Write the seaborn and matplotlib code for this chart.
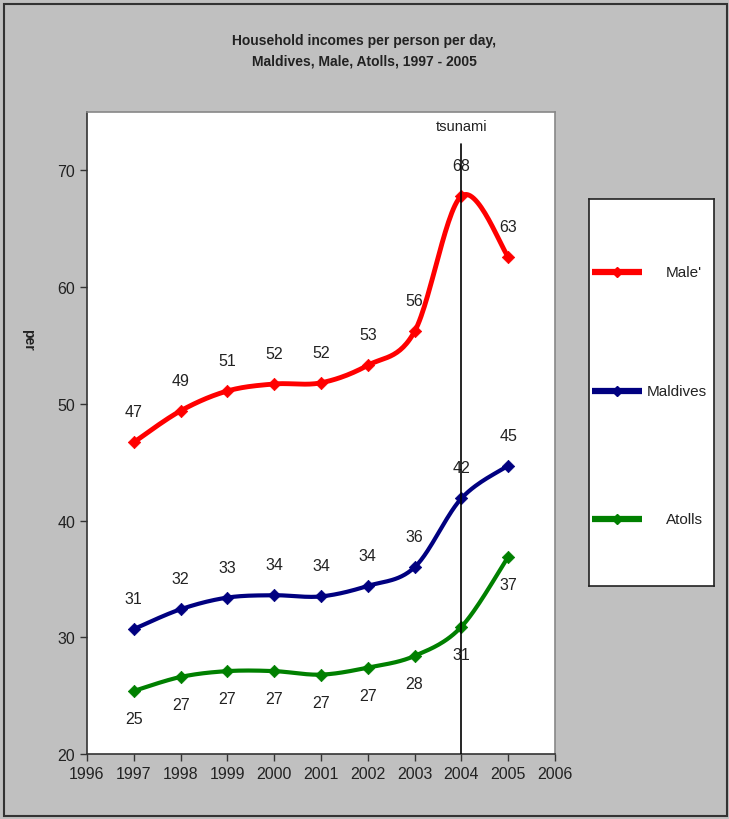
import numpy as np
import pandas as pd
import matplotlib
matplotlib.use('Agg')
import matplotlib.pyplot as plt
import seaborn as sns

#data
years = [1997, 1998, 1999, 2000, 2001, 2002, 2003, 2004, 2005]
male = [46.7, 49.4, 51.1, 51.7, 51.8, 53.3, 56.2, 67.8, 62.6]
maldives = [30.7, 32.4, 33.4, 33.6, 33.5, 34.4, 36.0, 41.9, 44.7]
atolls = [25.4, 26.6, 27.1, 27.1, 26.8, 27.4, 28.4, 30.9, 36.9]
series_names = ["Male'", 'Maldives', 'Atolls']
series_colors = ['#ff0000', '#000080', '#008000']
tsunami_year = 2004

df = pd.DataFrame({'year': years, "Male'": male, 'Maldives': maldives, 'Atolls': atolls})

#excel style smoothed line (bezier with catmull-rom control points)
def smooth(xs, ys, n=30, sx=46.8, sy=11.7):
    p = np.column_stack([np.array(xs, float) * sx, np.array(ys, float) * sy])
    out = []
    for i in range(len(p) - 1):
        p0 = p[i - 1] if i > 0 else p[i]
        p1, p2 = p[i], p[i + 1]
        p3 = p[i + 2] if i + 2 < len(p) else p[i + 1]
        c1 = p1 + (p2 - p0) / 6
        c2 = p2 - (p3 - p1) / 6
        t = np.linspace(0, 1, n)[:, None]
        seg = (1 - t) ** 3 * p1 + 3 * (1 - t) ** 2 * t * c1 + 3 * (1 - t) * t ** 2 * c2 + t ** 3 * p2
        out.append(seg if i == 0 else seg[1:])
    out = np.vstack(out)
    return out[:, 0] / sx, out[:, 1] / sy

sns.set_style('white')
plt.rcParams['font.family'] = ['Liberation Sans', 'DejaVu Sans']

fig = plt.figure(figsize=(7.29, 8.2), dpi=100, facecolor='#c0c0c0')
ax = fig.add_axes([87 / 729, 1 - 755 / 820, (555 - 87) / 729, (755 - 113) / 820])
ax.set_facecolor('white')

widths = [3.5, 3, 3]
offsets = [22, 22, -20]
for name, col, lw, off in zip(series_names, series_colors, widths, offsets):
    sx, sy = smooth(df['year'], df[name])
    sm = pd.DataFrame({'year': sx, 'val': sy})
    sns.lineplot(data=sm, x='year', y='val', color=col, linewidth=lw, sort=False, ax=ax, estimator=None)
    sns.scatterplot(data=df, x='year', y=name, color=col, marker='D', s=40, edgecolor=col, ax=ax, zorder=3)
    for x, y in zip(df['year'], df[name]):
        ax.annotate(f'{int(y + 0.5):d}', (x, y), xytext=(0, off), textcoords='offset points',
                    ha='center', va='center', fontsize=11.5, color='#222222')

#tsunami marker
ax.plot([tsunami_year, tsunami_year], [20, 72.3], color='black', linewidth=1.2, zorder=4)
ax.text(tsunami_year, 73.8, 'tsunami', ha='center', va='center', fontsize=10.5, color='#222222')

ax.set_xlim(1996, 2006)
ax.set_ylim(20, 75)
ax.set_xticks(range(1996, 2007))
ax.set_yticks(range(20, 71, 10))
ax.tick_params(axis='both', direction='out', length=5, width=1, labelsize=11.5, labelcolor='#222222',
               bottom=True, left=True, color='#333333')
ax.set_xlabel('')
ax.set_ylabel('')
for s in ['left', 'bottom']:
    ax.spines[s].set_color('#333333')
    ax.spines[s].set_linewidth(1.2)
for s in ['top', 'right']:
    ax.spines[s].set_color('#888888')
    ax.spines[s].set_linewidth(1.2)

fig.text(28 / 729, 1 - 340 / 820, 'per', rotation=270, ha='center', va='center',
         fontsize=10, fontweight='bold', color='#222222')

#title
fig.text(0.5, 1 - 51 / 820, 'Household incomes per person per day,\nMaldives, Male, Atolls, 1997 - 2005',
         ha='center', va='center', fontsize=10, fontweight='bold', linespacing=1.6, color='#222222')

#legend box
lax = fig.add_axes([589 / 729, 1 - 587 / 820, (714 - 589) / 729, (587 - 200) / 820])
lax.set_facecolor('white')
lax.set_xlim(0, 1)
lax.set_ylim(0, 1)
lax.set_xticks([])
lax.set_yticks([])
for s in lax.spines.values():
    s.set_color('#222222')
    s.set_linewidth(1.2)
rows = [0.811, 0.504, 0.173]
text_x = [0.76, 0.70, 0.76]
for name, col, ry, tx in zip(series_names, series_colors, rows, text_x):
    lax.plot([0.024, 0.424], [ry, ry], color=col, linewidth=4.5, solid_capstyle='butt')
    lax.plot([0.224], [ry], marker='D', color=col, markersize=5)
    lax.text(tx, ry, name, ha='center', va='center', fontsize=11, color='#222222')

#outer frame
fig.patches.append(plt.Rectangle((4 / 729, 3 / 820), 723 / 729, 812 / 820, transform=fig.transFigure,
                                 fill=False, edgecolor='#333333', linewidth=1.5))

fig.savefig('out.png', dpi=100, facecolor=fig.get_facecolor())
